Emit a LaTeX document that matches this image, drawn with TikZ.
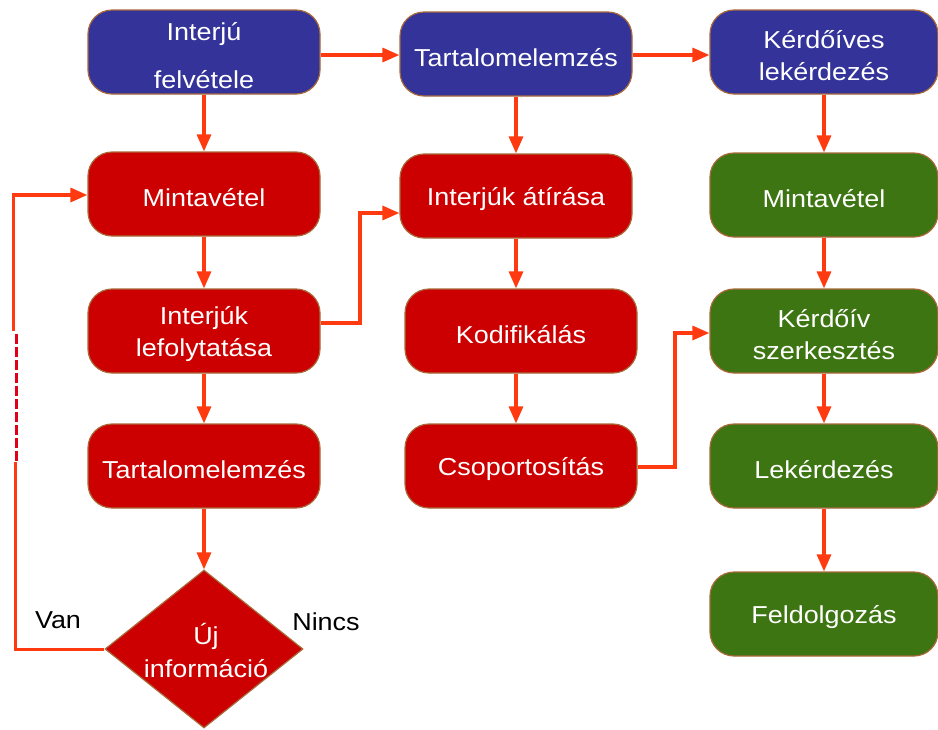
\documentclass[tikz,border=0pt]{standalone}
\usepackage{fontspec}
\setmainfont[FakeStretch=1.1]{Liberation Sans}
\usetikzlibrary{arrows.meta,shapes.geometric}
\definecolor{bbox}{HTML}{333399}
\definecolor{rbox}{HTML}{CC0000}
\definecolor{gbox}{HTML}{3D7512}
\definecolor{edgec}{HTML}{A86A3A}
\definecolor{arr}{HTML}{FF3A10}
\definecolor{dashc}{HTML}{E0001A}
\tikzset{
  boxtext/.style={text=white, align=center, inner sep=0pt, yshift=-3.5pt,
    font=\fontsize{24.5}{32}\selectfont},
  box/.style={draw=edgec, line width=1.2pt, rounded corners=24pt,
    minimum width=232pt, minimum height=84pt, inner sep=0pt,
    label={[boxtext]center:{#1}}},
  bluebox/.style={box={#1}, fill=bbox},
  redbox/.style={box={#1}, fill=rbox},
  greenbox/.style={box={#1}, fill=gbox, minimum width=228pt},
  flow/.style={draw=arr, line width=3.2pt, -{Triangle[length=17pt,width=14pt]}},
  plain/.style={draw=arr, line width=3pt},
  lbl/.style={text=black, font=\fontsize{24.5}{32}\selectfont, inner sep=0pt}
}
\begin{document}
\begin{tikzpicture}[x=1pt,y=-1pt]
\useasboundingbox (0,0) rectangle (938,729);
% column 1
\node[bluebox={Interjú\\[16pt]felvétele}] (a1) at (204,52) {};
\node[redbox={Mintavétel}] (a2) at (204,194) {};
\node[redbox={Interjúk\\lefolytatása}] (a3) at (204,331) {};
\node[redbox={Tartalomelemzés}] (a4) at (204,466) {};
\node[diamond, draw=edgec, line width=1.2pt, fill=rbox, minimum width=198pt, minimum height=158pt, inner sep=0pt,
  label={[boxtext, yshift=2pt, xshift=2pt, font=\fontsize{24.5}{33}\selectfont]center:{Új\\információ}}] (d) at (204,649) {};
% column 2
\node[bluebox={Tartalomelemzés}] (b1) at (516,54) {};
\node[redbox={Interjúk átírása}] (b2) at (516,196) {};
\node[redbox={Kodifikálás}] (b3) at (521,331) {};
\node[redbox={Csoportosítás}] (b4) at (521,466) {};
% column 3
\node[bluebox={Kérdőíves\\lekérdezés}, minimum width=228pt] (c1) at (824,52) {};
\node[greenbox={Mintavétel}] (c2) at (824,195) {};
\node[greenbox={Kérdőív\\szerkesztés}] (c3) at (824,331) {};
\node[greenbox={Lekérdezés}] (c4) at (824,466) {};
\node[greenbox={Feldolgozás}] (c5) at (824,614) {};
% labels
\node[lbl] (van) at (58,620) {Van};
\node[lbl] (nincs) at (326,622) {Nincs};
% connectors
\draw[flow] (a1) -- (a2);
\draw[flow] (a2) -- (a3);
\draw[flow] (a3) -- (a4);
\draw[flow] (a4) -- (d);
\draw[flow] ([yshift=-3pt]a1.east) -- ([yshift=-3pt]a1.east -| b1.west);
\draw[flow] ([yshift=-1pt]b1.east) -- ([yshift=-1pt]b1.east -| c1.west);
\draw[flow] (b1) -- (b2);
\draw[flow] (b2.south) -- (b2.south |- b3.north);
\draw[flow] (b2.south |- b3.south) -- (b2.south |- b4.north);
\draw[flow] (c1) -- (c2);
\draw[flow] (c2) -- (c3);
\draw[flow] (c3) -- (c4);
\draw[flow] (c4) -- (c5);
\coordinate (k1) at (360,323);
\draw[flow] ([yshift=8pt]a3.east) -- (k1) |- ([yshift=-17pt]b2.west);
\coordinate (k2) at (675,467);
\draw[flow] ([yshift=-1pt]b4.east) -- (k2) |- ([yshift=-2pt]c3.west);
% feedback loop
\coordinate (f1) at (15.5,649);
\coordinate (f2) at (15.5,462);
\coordinate (f3) at (16,461);
\coordinate (f4) at (16,332);
\coordinate (f5) at (13.5,331);
\coordinate (f6) at (13.5,195);
\draw[plain] (d.west) -- (f1) -- (f2);
\draw[draw=dashc, line width=3pt, dash pattern=on 10pt off 3pt] (f3) -- (f4);
\draw[flow] (f5) -- (f6) -- (f6 -| a2.west);
\end{tikzpicture}
\end{document}
